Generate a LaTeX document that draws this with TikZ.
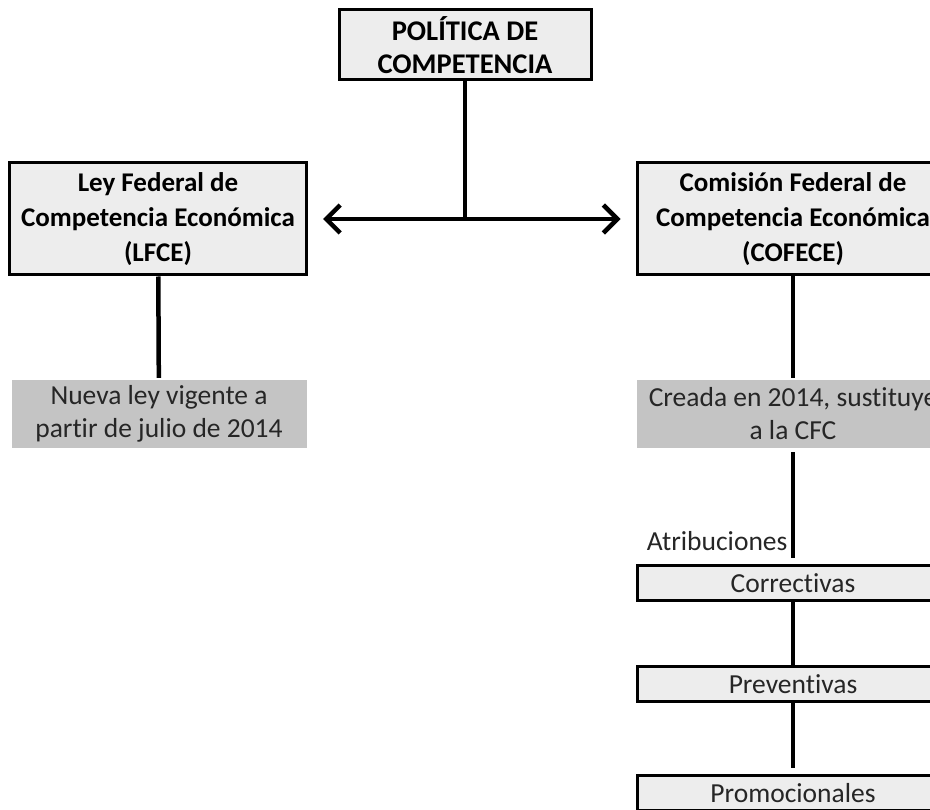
\documentclass[tikz,border=0pt]{standalone}
\usepackage{fontspec}
\setmainfont{Carlito}[Ligatures=NoCommon]
\usepackage{xcolor}
\definecolor{boxfill}{HTML}{EDEDED}
\definecolor{notefill}{HTML}{C4C4C4}
\usetikzlibrary{arrows.meta}
\tikzset{>={Straight Barb[length=14pt,width=28pt]},
    headbox/.style={draw=black, fill=boxfill, line width=3pt, align=center, inner sep=0pt,
      font=\bfseries\fontsize{27}{35}\selectfont},
    notebox/.style={fill=notefill, align=center, inner sep=0pt, text=black!85,
      font=\fontsize{27.5}{33}\selectfont},
    itembox/.style={draw=black, fill=boxfill, line width=3pt, inner sep=0pt, minimum width=312pt,
      minimum height=35pt, text=black!85, font=\fontsize{27.5}{30}\selectfont},
    conn/.style={line width=4.5pt}}

\begin{document}
\begin{tikzpicture}[x=1pt, y=-1pt]
    \useasboundingbox (0,0) rectangle (930,810);
    \node[headbox, minimum width=252pt, minimum height=70pt, font=\bfseries\fontsize{28.5}{33}\selectfont] (pol) at (465,45) {POLÍTICA DE\\COMPETENCIA};
    \node[headbox, minimum width=297pt, minimum height=112pt] (lfce) at (158,219) {Ley Federal de\\Competencia Económica\\(LFCE)};
    \node[headbox, minimum width=312pt, minimum height=112pt] (cofece) at (793,219) {Comisión Federal de\\Competencia Económica\\(COFECE)};
    \node[notebox, minimum width=295pt, minimum height=68pt] (nueva) at (159,414) {Nueva ley vigente a\\partir de julio de 2014};
    \node[notebox, minimum width=312pt, minimum height=68pt] (creada) at (793,414) {Creada en 2014, sustituye\\a la CFC};
    \node[itembox] (corr) at (793,583) {Correctivas};
    \node[itembox] (prev) at (793,684) {Preventivas};
    \node[itembox] (prom) at (793,793) {Promocionales};
    % politica -> ley y comision
    \draw[conn] (pol) -- (pol |- lfce);
    \draw[conn, <->, shorten <=15pt, shorten >=15pt] (lfce) -- (cofece);
    \draw[conn, shorten >=2pt] (lfce) -- (nueva);
    \draw[conn, shorten >=2pt] (cofece) -- (creada);
    % atribuciones
    \draw[conn, shorten <=4pt, shorten >=6pt] (creada) -- node[pos=0.8, left, text=black!85, font=\fontsize{27.5}{30}\selectfont] (atr) {Atribuciones} (corr);
    \draw[conn] (corr) -- (prev);
    \draw[conn, shorten >=6pt] (prev) -- (prom);
\end{tikzpicture}
\end{document}
